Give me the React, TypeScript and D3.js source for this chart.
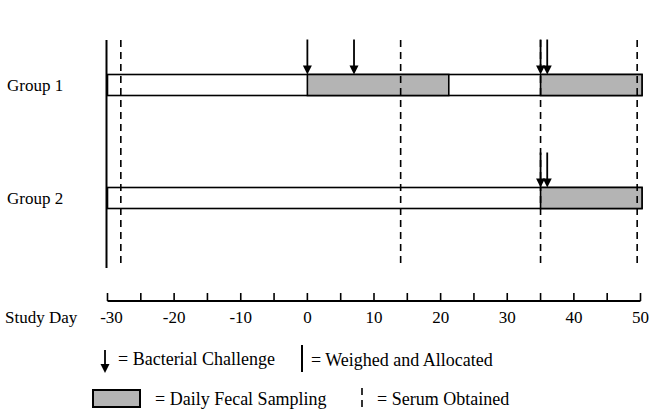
import * as d3 from "d3";

const groups = ["Group 1", "Group 2"];
// fecal sampling windows per group, [start, end] in study days
const samplingPeriods: [number, number][][] = [
  [[0, 21], [35, 50]],
  [[35, 50]],
];
// bacterial challenge days per group
const challengeDays: number[][] = [
  [0, 7, 35, 36],
  [35, 36],
];
const serumDays = [-28, 14, 35, 49.5];
const allocationDay = -30;
const dayDomain: [number, number] = [-30, 50];
const minorTicks = d3.range(-30, 51, 5);
const tickLabels = ["-30", "-20", "-10", "0", "10", "20", "30", "40", "50"];

const W = 652;
const H = 418;
const FONT = "'Liberation Serif', serif";
const GRAY = "#b4b4b4";

function Arrow({ x, y1, y2 }: { x: number; y1: number; y2: number }) {
  const hw = 4.5;
  const hh = 9;
  return (
    <g>
      <line x1={x} x2={x} y1={y1} y2={y2 - hh + 1} stroke="#000" strokeWidth={1.8} />
      <path d={`M${x - hw},${y2 - hh} L${x + hw},${y2 - hh} L${x},${y2} Z`} fill="#000" />
    </g>
  );
}

function Label(props: { x: number; y: number; dy?: string; anchor?: string; size?: number; children: string }) {
  return (
    <text x={props.x} y={props.y} dy={props.dy} textAnchor={props.anchor ?? "start"} fontSize={props.size ?? 17}
      fontFamily={FONT} style={{ fontFamily: FONT }}>{props.children}</text>
  );
}

export default function App() {
  const x = d3.scaleLinear().domain(dayDomain).range([107.5, 640.5]);
  const y = d3.scalePoint<string>().domain(groups).range([85, 198]);
  const barH = 21;
  const topY = 40;
  const bottomY = 268;
  const axisY = 301;

  return (
    <svg width={W} height={H} style={{ position: "absolute", left: 0, top: 0 }} fontFamily={FONT}>
      <style>{`text { font-family: 'Liberation Serif', serif; }`}</style>
      <rect width={W} height={H} fill="#fff" />

      {groups.map((g, i) => {
        const cy = y(g)!;
        return (
          <g key={g}>
            <Label x={7} y={cy} dy="0.35em">{g}</Label>
            <rect x={x(dayDomain[0])} y={cy - barH / 2} width={x(dayDomain[1]) - x(dayDomain[0]) + 1.5} height={barH}
              fill="#fff" stroke="#000" strokeWidth={1.6} />
            {samplingPeriods[i].map(([a, b], j) => (
              <rect key={j} x={x(a)} y={cy - barH / 2} width={x(b) - x(a) + 1.5} height={barH}
                fill={GRAY} stroke="#000" strokeWidth={1.6} />
            ))}
            {challengeDays[i].map((d, j) => (
              <Arrow key={j} x={x(d)} y1={cy - barH / 2 - 35} y2={cy - barH / 2} />
            ))}
          </g>
        );
      })}

      {/* allocation line */}
      <line x1={x(allocationDay) - 1} x2={x(allocationDay) - 1} y1={topY} y2={bottomY} stroke="#000" strokeWidth={2} />

      {/* serum sampling */}
      {serumDays.map((d) => (
        <line key={d} x1={x(d)} x2={x(d)} y1={topY} y2={bottomY} stroke="#000" strokeWidth={1.6} strokeDasharray="7,5" />
      ))}

      {/* axis */}
      <line x1={x(dayDomain[0])} x2={x(dayDomain[1])} y1={axisY} y2={axisY} stroke="#000" strokeWidth={2} />
      {minorTicks.map((t) => (
        <line key={t} x1={x(t)} x2={x(t)} y1={axisY} y2={axisY - 8} stroke="#000" strokeWidth={1.6} />
      ))}
      {tickLabels.map((l) => (
        <Label key={l} x={x(+l) + (l === "-30" ? 4 : 0)} y={axisY + 22} anchor="middle">{l}</Label>
      ))}
      <Label x={5} y={axisY + 22}>Study Day</Label>

      {/* legend */}
      <Arrow x={105} y1={350} y2={373} />
      <Label x={118} y={359} dy="0.35em" size={18}>= Bacterial Challenge</Label>
      <line x1={302} x2={302} y1={345} y2={372} stroke="#000" strokeWidth={2} />
      <Label x={311} y={360} dy="0.35em" size={18}>= Weighed and Allocated</Label>

      <rect x={93} y={390} width={47} height={17} fill={GRAY} stroke="#000" strokeWidth={2} />
      <Label x={155} y={399} dy="0.35em" size={18}>= Daily Fecal Sampling</Label>
      <line x1={362} x2={362} y1={388} y2={411} stroke="#000" strokeWidth={1.6} strokeDasharray="7,5" />
      <Label x={377} y={399} dy="0.35em" size={18}>= Serum Obtained</Label>
    </svg>
  );
}
